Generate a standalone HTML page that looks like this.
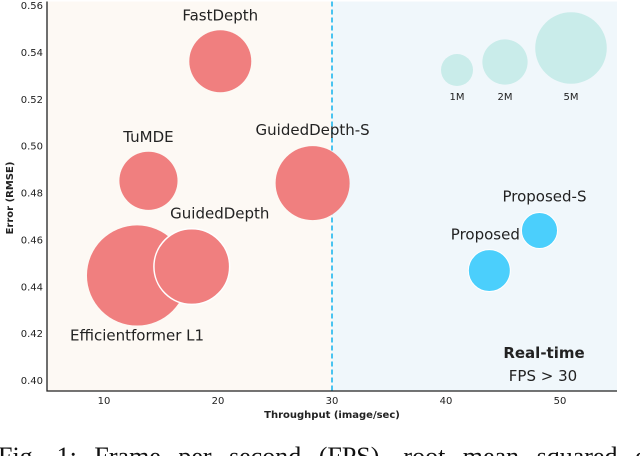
<!DOCTYPE html>
<html><head><meta charset="utf-8"><style>
body{margin:0;background:#fff;width:640px;height:456px;overflow:hidden}
svg text{font-family:"DejaVu Sans","Liberation Sans",sans-serif}
</style></head><body>
<svg id="chart" width="640" height="456">
<g id="bg"></g><g id="marks"></g><g id="axes"></g>
<text x="-2" y="465" font-size="26" fill="#111" word-spacing="11" style="font-family:'Liberation Serif',serif">Fig. 1: Frame per second (FPS), root mean squared error (RMSE)</text>
</svg>
<script>
const models=["FastDepth","TuMDE","GuidedDepth-S","Efficientformer L1","GuidedDepth","Proposed-S","Proposed"];
const fps=[20.2,13.9,28.3,12.9,17.7,48.2,43.8];
const rmse=[0.536,0.485,0.484,0.4446,0.4484,0.4638,0.4467];
const params=[3.75,3.3,5.35,9.8,5.6,1.27,1.72];
const legendSizes=[1,2,5];
const legendLabels=["1M","2M","5M"];
const xTicks=[10,20,30,40,50];
const yTicks=[0.40,0.42,0.44,0.46,0.48,0.50,0.52,0.54,0.56];
const NS="http://www.w3.org/2000/svg";
const X=v=>-10+11.4*v, Y=v=>5+(0.56-v)*2343.75, R=m=>16*Math.sqrt(m);
function mk(t,a,p){const e=document.createElementNS(NS,t);for(const k in a)e.setAttribute(k,a[k]);p.appendChild(e);return e;}
const bg=document.getElementById('bg'),mg=document.getElementById('marks'),ax=document.getElementById('axes');
const L=X(5),Rr=X(55),T=Y(0.5615),B=Y(0.3953);
let e=mk('rect',{x:L,y:T,width:X(30)-L,height:B-T,fill:'#fdf9f4'},bg);

e=mk('rect',{x:X(30),y:T,width:Rr-X(30),height:B-T,fill:'#f0f7fb'},bg);

e=mk('line',{x1:X(30),x2:X(30),y1:T,y2:B,stroke:'#1fb6ee','stroke-width':1.6,'stroke-dasharray':'5,3'},bg);

const labelOff=[[0,-41],[0,-39],[0,-48],[0,65],[28,-48],[5,-29],[-4,-31]];
models.forEach((m,i)=>{
 const prop=i>=5;
 const c=mk('circle',{cx:X(fps[i]),cy:Y(rmse[i]),r:R(params[i]),fill:prop?'#4bcffc':'#f07f7f',stroke:(i==4||prop)?'#fff':'none','stroke-width':prop?1:1.5},mg);
 
 
 const t=mk('text',{x:X(fps[i])+labelOff[i][0],y:Y(rmse[i])+labelOff[i][1],'text-anchor':'middle','font-size':15,fill:'#222'},mg);
 t.textContent=m;
 
 
});
const legX=[457,505,571],legY=[70,62,48];
legendSizes.forEach((s,i)=>{
 const c=mk('circle',{cx:legX[i],cy:legY[i],r:R(s),fill:'#c9ecea'},mg);
 
 
 const t=mk('text',{x:legX[i],y:100,'text-anchor':'middle','font-size':10,fill:'#222'},mg);
 t.textContent=legendLabels[i];
 
 
});
e=mk('text',{x:544,y:358,'text-anchor':'middle','font-size':15,'font-weight':'bold',fill:'#222'},mg);e.textContent='Real-time';

e=mk('text',{x:543,y:381,'text-anchor':'middle','font-size':15,fill:'#222'},mg);e.textContent='FPS > 30';

e=mk('path',{d:`M${L},${T} V${B} H${Rr}`,fill:'none',stroke:'#222','stroke-width':1.3},ax);

xTicks.forEach(v=>{const t=mk('text',{x:X(v),y:404,'text-anchor':'middle','font-size':10,fill:'#222'},ax);t.textContent=v;
 });
yTicks.forEach(v=>{const t=mk('text',{x:43,y:Y(v)+4,'text-anchor':'end','font-size':10,fill:'#222'},ax);t.textContent=v.toFixed(2);
 });
e=mk('text',{x:332,y:418,'text-anchor':'middle','font-size':10,'font-weight':'bold',fill:'#222'},ax);e.textContent='Throughput (image/sec)';

e=mk('text',{x:0,y:0,'text-anchor':'middle','font-size':10,'font-weight':'bold',fill:'#222',transform:'translate(13,198) rotate(-90)'},ax);e.textContent='Error (RMSE)';

</script>
</body></html>
